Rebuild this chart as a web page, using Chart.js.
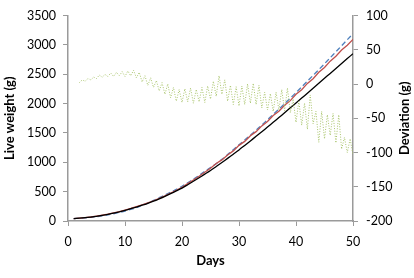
<!DOCTYPE html>
<html>
<head>
<meta charset="utf-8">
<script src="https://cdn.jsdelivr.net/npm/chart.js@4"></script>
<style>
  html, body { margin: 0; padding: 0; background: #fff; }
  #wrap { width: 414px; height: 278px; }
</style>
</head>
<body>
<div id="wrap"><canvas id="chart" width="414" height="278"></canvas></div>
<script>
// days 1..50
const days = [1,2,3,4,5,6,7,8,9,10,11,12,13,14,15,16,17,18,19,20,21,22,23,24,25,
              26,27,28,29,30,31,32,33,34,35,36,37,38,39,40,41,42,43,44,45,46,47,48,49,50];

// live weight (g), black solid
const weightBlack = [42,48,56,67,80,96,114,134,157,182,209,238,269,302,338,378,420,465,512,560,
                     618,677,737,798,860,928,997,1067,1138,1210,1287,1364,1442,1521,1600,1681,1762,1844,1927,2010,
                     2093,2177,2261,2345,2430,2514,2598,2682,2766,2850];

// live weight (g), red solid
const weightRed = [42,49,57,68,82,98,116,137,160,186,213,243,275,309,345,385,428,474,523,575,
                   636,698,763,830,900,978,1041,1126,1194,1288,1356,1452,1522,1620,1694,1796,1870,1972,2050,2158,
                   2236,2344,2424,2533,2614,2722,2805,2912,2994,3094];

// live weight (g), blue dashed
const weightBlue = [42,47,53,62,74,88,104,123,145,170,196,226,270,306,350,398,442,489,538,590,
                    651,713,778,845,912,975,1050,1132,1215,1297,1380,1462,1547,1635,1725,1815,1905,1998,2092,2187,
                    2285,2382,2480,2578,2678,2780,2882,2985,3088,3190];

// deviation (g), every half day from day 2 to day 50
const devStart = 2, devStep = 0.5;
const deviation = [2,6,4,8,6,10,8,13,10,14,
                   11,16,11,17,12,18,11,19,12,20,
                   9,17,3,12,-2,9,-5,5,-10,2,
                   -15,0,-20,-5,-25,-8,-27,-7,-26,-6,
                   -28,-8,-26,-5,-27,-3,-22,4,-18,12,
                   -15,6,-25,-2,-30,-4,-32,-3,-30,0,
                   -28,1,-30,-2,-35,-12,-38,-14,-40,-12,
                   -38,-8,-39,-6,-42,-22,-56,-25,-60,-28,
                   -66,-16,-58,-40,-85,-40,-80,-45,-75,-43,
                   -86,-45,-95,-78,-100,-80,-104];

const xy = (xs, ys) => ys.map((v, i) => ({ x: xs[i], y: v }));
const devDays = deviation.map((v, i) => devStart + i * devStep);

const axisColor = "#9a9a9a";
const tickFont = { family: "Lato", size: 12.5 };
const plain = v => String(v);

// axis titles drawn by hand so both read bottom-to-top like the original
const titles = {
  id: "titles",
  afterDraw(chart) {
    const ctx = chart.ctx;
    ctx.save();
    ctx.fillStyle = "#000";
    ctx.font = "bold 13px Lato";
    ctx.textAlign = "center";
    ctx.textBaseline = "middle";
    const midY = (chart.chartArea.top + chart.chartArea.bottom) / 2;
    ctx.save();
    ctx.translate(10, midY);
    ctx.rotate(-Math.PI / 2);
    ctx.fillText("Live weight (g)", 0, 0);
    ctx.restore();
    ctx.save();
    ctx.translate(405, midY);
    ctx.rotate(-Math.PI / 2);
    ctx.fillText("Deviation (g)", 0, 0);
    ctx.restore();
    ctx.fillText("Days", (chart.chartArea.left + chart.chartArea.right) / 2, 261);
    ctx.restore();
  }
};

new Chart("chart", {
  type: "line",
  data: {
    datasets: [
      {
        label: "deviation",
        data: xy(devDays, deviation),
        yAxisID: "y2",
        borderColor: "#a9c46c",
        borderWidth: 1,
        borderDash: [1, 1.6],
        pointRadius: 0,
        fill: false,
        tension: 0
      },
      {
        label: "black",
        data: xy(days, weightBlack),
        yAxisID: "y",
        borderColor: "#000000",
        borderWidth: 1.3,
        pointRadius: 0,
        fill: false,
        tension: 0.3
      },
      {
        label: "red",
        data: xy(days, weightRed),
        yAxisID: "y",
        borderColor: "#c0504d",
        borderWidth: 1.3,
        pointRadius: 0,
        fill: false,
        tension: 0
      },
      {
        label: "blue",
        data: xy(days, weightBlue),
        yAxisID: "y",
        borderColor: "#4f81bd",
        borderWidth: 1.3,
        borderDash: [5, 3],
        pointRadius: 0,
        fill: false,
        tension: 0.3
      }
    ]
  },
  options: {
    responsive: false,
    animation: false,
    layout: { padding: { top: 14, left: 0, right: 0, bottom: 0 } },
    plugins: { legend: { display: false }, tooltip: { enabled: false } },
    scales: {
      x: {
        type: "linear",
        min: 0, max: 50,
        ticks: { stepSize: 10, color: "#000", font: tickFont, padding: 8, maxRotation: 0, callback: plain },
        grid: { drawOnChartArea: false, color: axisColor, tickLength: 5 },
        border: { color: axisColor, width: 1.5 },
        afterFit(s) { s.height = 57; }
      },
      y: {
        position: "left",
        min: 0, max: 3500,
        ticks: { stepSize: 500, color: "#000", font: tickFont, padding: 7, callback: plain },
        grid: { drawOnChartArea: false, color: axisColor, tickLength: 5 },
        border: { color: axisColor, width: 1.5 },
        afterFit(s) { s.width = 68; }
      },
      y2: {
        position: "right",
        min: -200, max: 100,
        ticks: { stepSize: 50, color: "#000", font: tickFont, padding: 8, callback: plain },
        grid: { drawOnChartArea: false, color: axisColor, tickLength: 5 },
        border: { color: axisColor, width: 1.5 },
        afterFit(s) { s.width = 61; }
      }
    }
  },
  plugins: [titles]
});
</script>
</body>
</html>
